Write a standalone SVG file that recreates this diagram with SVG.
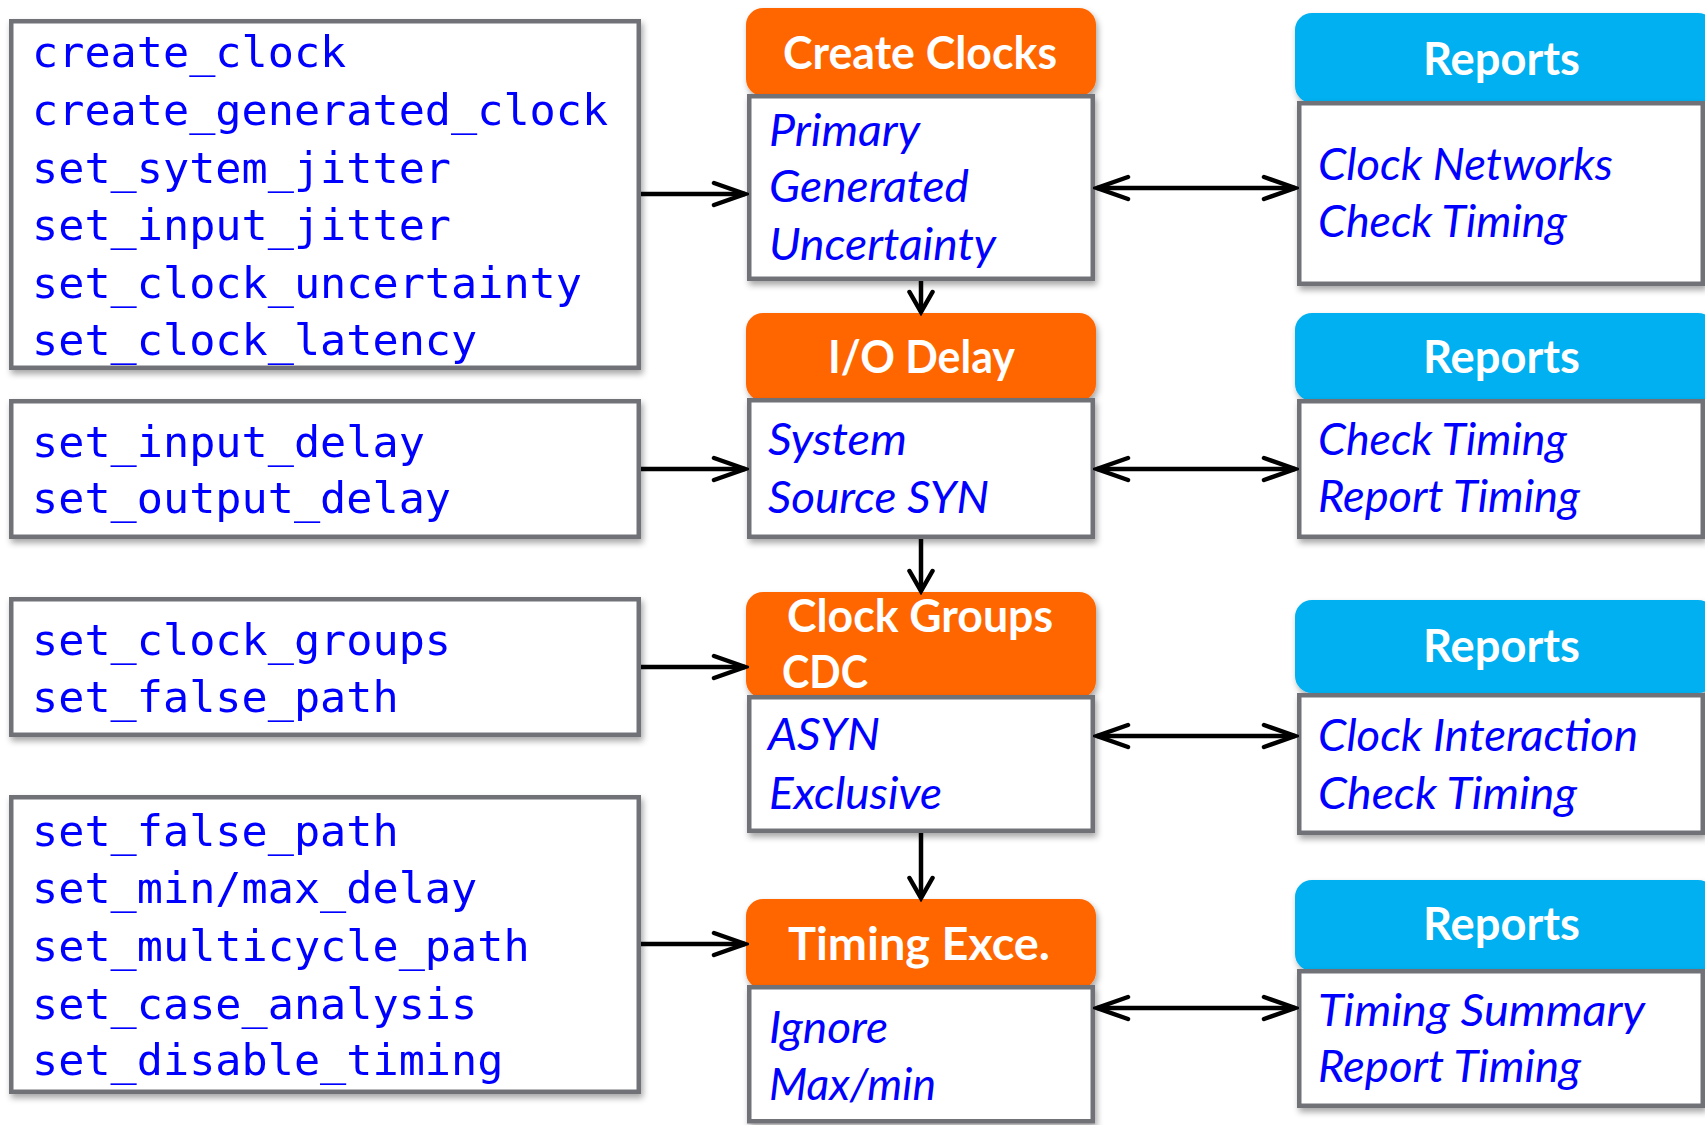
<svg xmlns="http://www.w3.org/2000/svg" width="1705" height="1125" viewBox="0 0 1705 1125">
  <defs>
    <filter id="shadow" x="-5%" y="-10%" width="115%" height="130%">
      <feDropShadow dx="2" dy="4" stdDeviation="3" flood-color="#000" flood-opacity="0.35"/>
    </filter>
    <marker id="headH" markerUnits="userSpaceOnUse" markerWidth="40" markerHeight="30" viewBox="-36 -15 40 30" refX="0" refY="0" orient="auto-start-reverse">
      <path d="M-31,-11 L0,0 L-31,11" fill="none" stroke="#000" stroke-width="4.5" stroke-linecap="round" stroke-linejoin="miter"/>
    </marker>
    <marker id="headV" markerUnits="userSpaceOnUse" markerWidth="30" markerHeight="30" viewBox="-26 -15 30 30" refX="0" refY="0" orient="auto">
      <path d="M-20,-11.5 L0,0 L-20,11.5" fill="none" stroke="#000" stroke-width="4.5" stroke-linecap="round" stroke-linejoin="miter"/>
    </marker>
    <style>
      .box { fill: #ffffff; stroke: #707278; stroke-width: 4.5; }
      .hdr-o { fill: #FF6600; }
      .hdr-b { fill: #00B0F0; }
      .code { font-family: "DejaVu Sans Mono", "Liberation Mono", monospace; font-size: 43.5px; fill: #0000FF; }
      .item { font-family: Lato, "Open Sans", sans-serif; font-style: italic; font-size: 44px; fill: #0000FF; }
      .title { font-family: Lato, "Open Sans", sans-serif; font-weight: bold; font-size: 45px; fill: #ffffff; }
      .link { fill: none; stroke: #000; stroke-width: 4.5; }
    </style>
  </defs>

  <rect width="1705" height="1125" fill="#ffffff"/>

  <!-- SDC command lists (left column) -->
  <g id="cmd-clocks" filter="url(#shadow)">
    <rect class="box" x="11.25" y="21.25" width="627.5" height="346.5"/>
    <text class="code" x="32" y="67">create_clock</text>
    <text class="code" x="32" y="125">create_generated_clock</text>
    <text class="code" x="32" y="183">set_sytem_jitter</text>
    <text class="code" x="32" y="240">set_input_jitter</text>
    <text class="code" x="32" y="298">set_clock_uncertainty</text>
    <text class="code" x="32" y="355">set_clock_latency</text>
  </g>
  <g id="cmd-io" filter="url(#shadow)">
    <rect class="box" x="11.25" y="401.25" width="627.5" height="135.5"/>
    <text class="code" x="32" y="457">set_input_delay</text>
    <text class="code" x="32" y="513">set_output_delay</text>
  </g>
  <g id="cmd-groups" filter="url(#shadow)">
    <rect class="box" x="11.25" y="599.25" width="627.5" height="135.5"/>
    <text class="code" x="32" y="655">set_clock_groups</text>
    <text class="code" x="32" y="712">set_false_path</text>
  </g>
  <g id="cmd-exceptions" filter="url(#shadow)">
    <rect class="box" x="11.25" y="797.25" width="627.5" height="294.5"/>
    <text class="code" x="32" y="846">set_false_path</text>
    <text class="code" x="32" y="903">set_min/max_delay</text>
    <text class="code" x="32" y="961">set_multicycle_path</text>
    <text class="code" x="32" y="1019">set_case_analysis</text>
    <text class="code" x="32" y="1075">set_disable_timing</text>
  </g>

  <!-- Constraint steps (middle column) -->
  <g id="step-clocks">
    <rect class="hdr-o" x="746" y="8" width="350" height="88" rx="17" filter="url(#shadow)"/>
    <text class="title" x="783" y="69" textLength="274" lengthAdjust="spacingAndGlyphs">Create Clocks</text>
    <rect class="box" x="749.25" y="96.25" width="343.5" height="182.5" filter="url(#shadow)"/>
    <text class="item" x="769" y="146" textLength="151" lengthAdjust="spacingAndGlyphs">Primary</text>
    <text class="item" x="769" y="202" textLength="200" lengthAdjust="spacingAndGlyphs">Generated</text>
    <text class="item" x="769" y="260" textLength="227" lengthAdjust="spacingAndGlyphs">Uncertainty</text>
  </g>
  <g id="step-io">
    <rect class="hdr-o" x="746" y="313" width="350" height="88" rx="17" filter="url(#shadow)"/>
    <text class="title" x="828" y="373" textLength="187" lengthAdjust="spacingAndGlyphs">I/O Delay</text>
    <rect class="box" x="749.25" y="400.25" width="343.5" height="136.5" filter="url(#shadow)"/>
    <text class="item" x="768" y="455" textLength="139" lengthAdjust="spacingAndGlyphs">System</text>
    <text class="item" x="768" y="513" textLength="221" lengthAdjust="spacingAndGlyphs">Source SYN</text>
  </g>
  <g id="step-groups">
    <rect class="hdr-o" x="746" y="592" width="350" height="106" rx="17" filter="url(#shadow)"/>
    <text class="title" x="787" y="632" textLength="266" lengthAdjust="spacingAndGlyphs">Clock Groups</text>
    <text class="title" x="782" y="688" textLength="86" lengthAdjust="spacingAndGlyphs">CDC</text>
    <rect class="box" x="749.25" y="697.25" width="343.5" height="133.5" filter="url(#shadow)"/>
    <text class="item" x="768" y="750" textLength="112" lengthAdjust="spacingAndGlyphs">ASYN</text>
    <text class="item" x="769" y="809" textLength="173" lengthAdjust="spacingAndGlyphs">Exclusive</text>
  </g>
  <g id="step-exceptions">
    <rect class="hdr-o" x="746" y="899" width="350" height="90" rx="17" filter="url(#shadow)"/>
    <text class="title" x="788" y="960" textLength="262" lengthAdjust="spacingAndGlyphs">Timing Exce.</text>
    <rect class="box" x="749.25" y="987.25" width="343.5" height="134" filter="url(#shadow)"/>
    <text class="item" x="769" y="1043" textLength="119" lengthAdjust="spacingAndGlyphs">Ignore</text>
    <text class="item" x="769" y="1100" textLength="167" lengthAdjust="spacingAndGlyphs">Max/min</text>
  </g>

  <!-- Report panels (right column) -->
  <g id="report-clocks">
    <rect class="hdr-b" x="1295" y="13" width="420" height="90" rx="17" filter="url(#shadow)"/>
    <text class="title" x="1423" y="75" textLength="157" lengthAdjust="spacingAndGlyphs">Reports</text>
    <rect class="box" x="1299.25" y="103.25" width="403.5" height="180.5" filter="url(#shadow)"/>
    <text class="item" x="1318" y="180" textLength="295" lengthAdjust="spacingAndGlyphs">Clock Networks</text>
    <text class="item" x="1318" y="237" textLength="249" lengthAdjust="spacingAndGlyphs">Check Timing</text>
  </g>
  <g id="report-io">
    <rect class="hdr-b" x="1295" y="313" width="420" height="88" rx="17" filter="url(#shadow)"/>
    <text class="title" x="1423" y="373" textLength="157" lengthAdjust="spacingAndGlyphs">Reports</text>
    <rect class="box" x="1299.25" y="401.25" width="403.5" height="135.5" filter="url(#shadow)"/>
    <text class="item" x="1318" y="455" textLength="249" lengthAdjust="spacingAndGlyphs">Check Timing</text>
    <text class="item" x="1318" y="512" textLength="262" lengthAdjust="spacingAndGlyphs">Report Timing</text>
  </g>
  <g id="report-groups">
    <rect class="hdr-b" x="1295" y="600" width="420" height="93" rx="17" filter="url(#shadow)"/>
    <text class="title" x="1423" y="662" textLength="157" lengthAdjust="spacingAndGlyphs">Reports</text>
    <rect class="box" x="1299.25" y="695.25" width="403.5" height="137.5" filter="url(#shadow)"/>
    <text class="item" x="1318" y="751" textLength="320" lengthAdjust="spacingAndGlyphs">Clock Interaction</text>
    <text class="item" x="1318" y="809" textLength="259" lengthAdjust="spacingAndGlyphs">Check  Timing</text>
  </g>
  <g id="report-exceptions">
    <rect class="hdr-b" x="1295" y="880" width="420" height="91" rx="17" filter="url(#shadow)"/>
    <text class="title" x="1423" y="940" textLength="157" lengthAdjust="spacingAndGlyphs">Reports</text>
    <rect class="box" x="1299.25" y="971.25" width="403.5" height="134.5" filter="url(#shadow)"/>
    <text class="item" x="1318" y="1026" textLength="327" lengthAdjust="spacingAndGlyphs">Timing Summary</text>
    <text class="item" x="1318" y="1082" textLength="263" lengthAdjust="spacingAndGlyphs">Report Timing</text>
  </g>

  <!-- Connectors -->
  <g id="connectors">
    <line class="link" x1="641" y1="194" x2="745" y2="194" marker-end="url(#headH)"/>
    <line class="link" x1="641" y1="469" x2="745" y2="469" marker-end="url(#headH)"/>
    <line class="link" x1="641" y1="667" x2="745" y2="667" marker-end="url(#headH)"/>
    <line class="link" x1="641" y1="944" x2="745" y2="944" marker-end="url(#headH)"/>

    <line class="link" x1="1097" y1="188" x2="1295" y2="188" marker-start="url(#headH)" marker-end="url(#headH)"/>
    <line class="link" x1="1097" y1="469" x2="1295" y2="469" marker-start="url(#headH)" marker-end="url(#headH)"/>
    <line class="link" x1="1097" y1="736" x2="1295" y2="736" marker-start="url(#headH)" marker-end="url(#headH)"/>
    <line class="link" x1="1097" y1="1008" x2="1295" y2="1008" marker-start="url(#headH)" marker-end="url(#headH)"/>

    <line class="link" x1="921" y1="281" x2="921" y2="312" marker-end="url(#headV)"/>
    <line class="link" x1="921" y1="539" x2="921" y2="591" marker-end="url(#headV)"/>
    <line class="link" x1="921" y1="833" x2="921" y2="898" marker-end="url(#headV)"/>
  </g>
</svg>
